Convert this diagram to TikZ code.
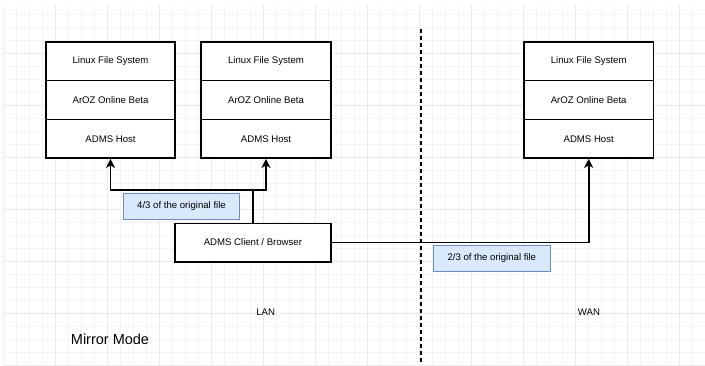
\documentclass[tikz,border=0pt]{standalone}
\usepackage{fontspec}
\setmainfont{Liberation Sans}
\usetikzlibrary{arrows.meta}
\definecolor{gridminor}{HTML}{F3F3F3}
\definecolor{gridmajor}{HTML}{EAEAEA}
\definecolor{notefill}{HTML}{DAE8FC}
\definecolor{notedraw}{HTML}{6C8EBF}
\tikzset{
  layer/.style={draw=black, line width=1.6pt, fill=white, minimum width=129.5pt,
    minimum height=38.7pt, inner sep=0pt, font=\fontsize{9.6}{11}\selectfont},
  clientbox/.style={draw=black, line width=1.6pt, fill=white, minimum width=155.7pt,
    minimum height=38.4pt, inner sep=0pt, font=\fontsize{9.6}{11}\selectfont},
  note/.style={draw=notedraw, line width=1.1pt, fill=notefill, minimum width=116.5pt,
    minimum height=25.8pt, inner sep=0pt, font=\fontsize{9.6}{11}\selectfont},
  plain/.style={inner sep=0pt, font=\fontsize{9.6}{11}\selectfont},
  conn/.style={draw=black, line width=1.9pt, -{Stealth[length=9pt, width=9pt, inset=2.5pt]}},
  link/.style={draw=black, line width=1.9pt},
  divider/.style={draw=black, line width=1.7pt, dash pattern=on 3.5pt off 3.5pt}
}
\begin{document}
\begin{tikzpicture}[x=1pt, y=-1pt]
\useasboundingbox (0,0) rectangle (705,365);
\fill[white] (0,0) rectangle (705,365);
% background grid, major line every fourth
\begin{scope}
\clip (3.3,5) rectangle (705,365);
\foreach \i in {0,...,53} {
  \pgfmathtruncatemacro{\m}{mod(\i,4)}
  \ifnum\m=0 \def\gc{gridmajor}\else\def\gc{gridminor}\fi
  \draw[\gc, line width=0.9pt] (3.3+13*\i,5) -- (3.3+13*\i,365);
}
\foreach \j in {0,...,28} {
  \pgfmathtruncatemacro{\m}{mod(\j,4)}
  \ifnum\m=0 \def\gc{gridmajor}\else\def\gc{gridminor}\fi
  \draw[\gc, line width=0.9pt] (3.3,1.3+13*\j) -- (705,1.3+13*\j);
}
\end{scope}

% LAN / WAN divider
\coordinate (divtop) at (420.7,29);
\coordinate (divbot) at (420.7,365);
\draw[divider] (divtop) -- (divbot);

% host stacks
\node[layer] (fsA)   at (110.5,61.3)  {Linux File System};
\node[layer] (arozA) at (110.5,100.0) {ArOZ Online Beta};
\node[layer] (hostA) at (110.5,138.7) {ADMS Host};

\node[layer] (fsB)   at (266,61.3)  {Linux File System};
\node[layer] (arozB) at (266,100.0) {ArOZ Online Beta};
\node[layer] (hostB) at (266,138.7) {ADMS Host};

\node[layer] (fsC)   at (588.7,61.3)  {Linux File System};
\node[layer] (arozC) at (588.7,100.0) {ArOZ Online Beta};
\node[layer] (hostC) at (588.7,138.7) {ADMS Host};

% client
\node[clientbox] (client) at (252.9,242.5) {ADMS Client / Browser};

% connectors
\draw[link] (client.north) -- ++(0,-32.6) coordinate (split);
\draw[conn] (split) -| (hostA.south);
\draw[conn] (split) -| (hostB.south);
\draw[conn] (client.east) -| (hostC.south);

% share notes
\node[note] (noteLan) at (181.5,206.3) {4/3 of the original file};
\node[note] (noteWan) at (491.8,258.2) {2/3 of the original file};

% zone labels
\node[plain] (lan) at (265.7,312.3) {LAN};
\node[plain] (wan) at (589,312.3) {WAN};
\node[inner sep=0pt, font=\fontsize{14.5}{17}\selectfont] (title) at (110,339) {Mirror Mode};
\end{tikzpicture}
\end{document}
